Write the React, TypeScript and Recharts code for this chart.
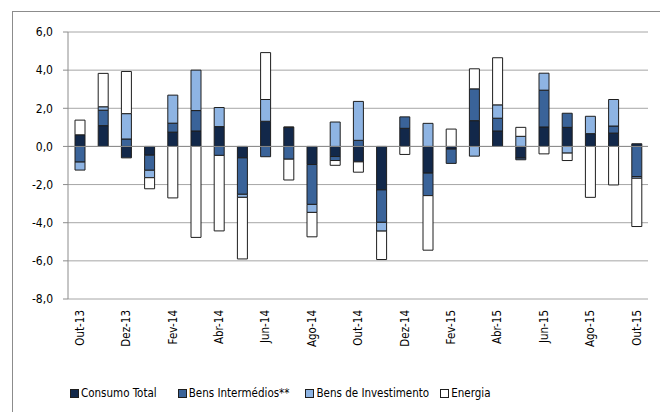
import React from 'react';
import { BarChart, Bar, XAxis, YAxis, CartesianGrid, ReferenceLine } from 'recharts';

const months = [
    'Out-13', 'Nov-13', 'Dez-13', 'Jan-14', 'Fev-14', 'Mar-14', 'Abr-14', 'Mai-14', 'Jun-14',
    'Jul-14', 'Ago-14', 'Set-14', 'Out-14', 'Nov-14', 'Dez-14', 'Jan-15', 'Fev-15', 'Mar-15',
    'Abr-15', 'Mai-15', 'Jun-15', 'Jul-15', 'Ago-15', 'Set-15', 'Out-15',
];
const consumo = [0.61, 1.09, -0.6, -0.46, 0.75, 0.81, 1.04, -0.6, 1.32, 1.0, -0.95, -0.53, -0.81, -2.28, 0.95, -1.4, -0.14, 1.35, 0.81, -0.61, 1.02, 1.0, 0.67, 0.7, 0.14];
const intermedios = [-0.82, 0.81, 0.39, -0.79, 0.47, 1.07, -0.47, -1.91, -0.54, -0.67, -2.09, -0.21, 0.32, -1.7, 0.6, -1.18, -0.75, 1.67, 0.67, -0.09, 1.93, 0.74, 0, 0.37, -1.58];
const investimento = [-0.42, 0.18, 1.33, -0.39, 1.47, 2.12, 1.0, -0.16, 1.14, 0.02, -0.42, 1.28, 2.04, -0.46, 0, 1.21, 0, -0.51, 0.7, 0.53, 0.89, -0.35, 0.91, 1.39, -0.09];
const energia = [0.77, 1.75, 2.21, -0.58, -2.7, -4.77, -3.96, -3.23, 2.46, -1.09, -1.28, -0.25, -0.54, -1.49, -0.42, -2.86, 0.91, 1.05, 2.47, 0.47, -0.39, -0.39, -2.67, -2.02, -2.53];
const yTicks = [-8, -6, -4, -2, 0, 2, 4, 6];

const series = [
    { key: 'consumo', name: 'Consumo Total', fill: '#12284a', gap: 21 },
    { key: 'intermedios', name: 'Bens Intermédios**', fill: '#3a6399', gap: 16 },
    { key: 'investimento', name: 'Bens de Investimento', fill: '#8eb4e3', gap: 11 },
    { key: 'energia', name: 'Energia', fill: '#ffffff', gap: 0 },
];

const data = months.map((m, i) => ({
    month: m,
    consumo: consumo[i],
    intermedios: intermedios[i],
    investimento: investimento[i],
    energia: energia[i],
}));

const font = '"DejaVu Sans Condensed", "DejaVu Sans", Verdana, sans-serif';

const MonthTick = (props: any) => {
    const { x, y, payload } = props;
    return (
        <g transform={`translate(${x},${y + 11})`}>
            <text transform="rotate(-90)" textAnchor="end" dy="0.36em" fontSize={11.5} fontFamily={font} fill="#000">
                {payload.value}
            </text>
        </g>
    );
};

const App: React.FC = () => {
    return (
        <div style={{ position: 'absolute', left: 0, top: 0, width: 660, height: 412, overflow: 'hidden', background: '#fff' }}>
            <div style={{ position: 'absolute', left: 12, top: 11, width: 700, height: 500, borderLeft: '1px solid #8c8c8c', borderTop: '1px solid #8c8c8c' }} />
            <div style={{ position: 'absolute', left: 0, top: 0 }}>
                <BarChart
                    width={660}
                    height={412}
                    data={data}
                    stackOffset="sign"
                    margin={{ top: 32, right: 12, bottom: 53, left: 0 }}
                >
                    <CartesianGrid vertical={false} stroke="#a6a6a6" />
                    <XAxis
                        dataKey="month"
                        interval={1}
                        axisLine={false}
                        tickLine={false}
                        tickSize={0}
                        tickMargin={0}
                        height={60}
                        tick={<MonthTick />}
                    />
                    <YAxis
                        domain={[-8, 6]}
                        ticks={yTicks}
                        width={68}
                        tickSize={5}
                        tickMargin={10}
                        stroke="#8c8c8c"
                        tick={{ fontSize: 12, fontFamily: font, fill: '#000' }}
                        tickFormatter={(v: number) => v.toFixed(1).replace('.', ',')}
                    />
                    <ReferenceLine y={0} stroke="#8c8c8c" />
                    {series.map((s) => (
                        <Bar
                            key={s.key}
                            dataKey={s.key}
                            name={s.name}
                            stackId="a"
                            fill={s.fill}
                            stroke="#1e1e1e"
                            strokeWidth={1}
                            barSize={10}
                            isAnimationActive={false}
                        />
                    ))}
                </BarChart>
            </div>
            <div
                style={{
                    position: 'absolute',
                    left: 70,
                    top: 386,
                    display: 'flex',
                    fontFamily: font,
                    fontSize: 11.5,
                    color: '#000',
                    whiteSpace: 'nowrap',
                }}
            >
                {series.map((s) => (
                    <div key={s.key} style={{ display: 'flex', alignItems: 'center', marginRight: s.gap }}>
                        <span style={{ width: 7, height: 7, background: s.fill, border: '1px solid #1e1e1e', marginRight: 2 }} />
                        <span>{s.name}</span>
                    </div>
                ))}
            </div>
        </div>
    );
};

export default App;
